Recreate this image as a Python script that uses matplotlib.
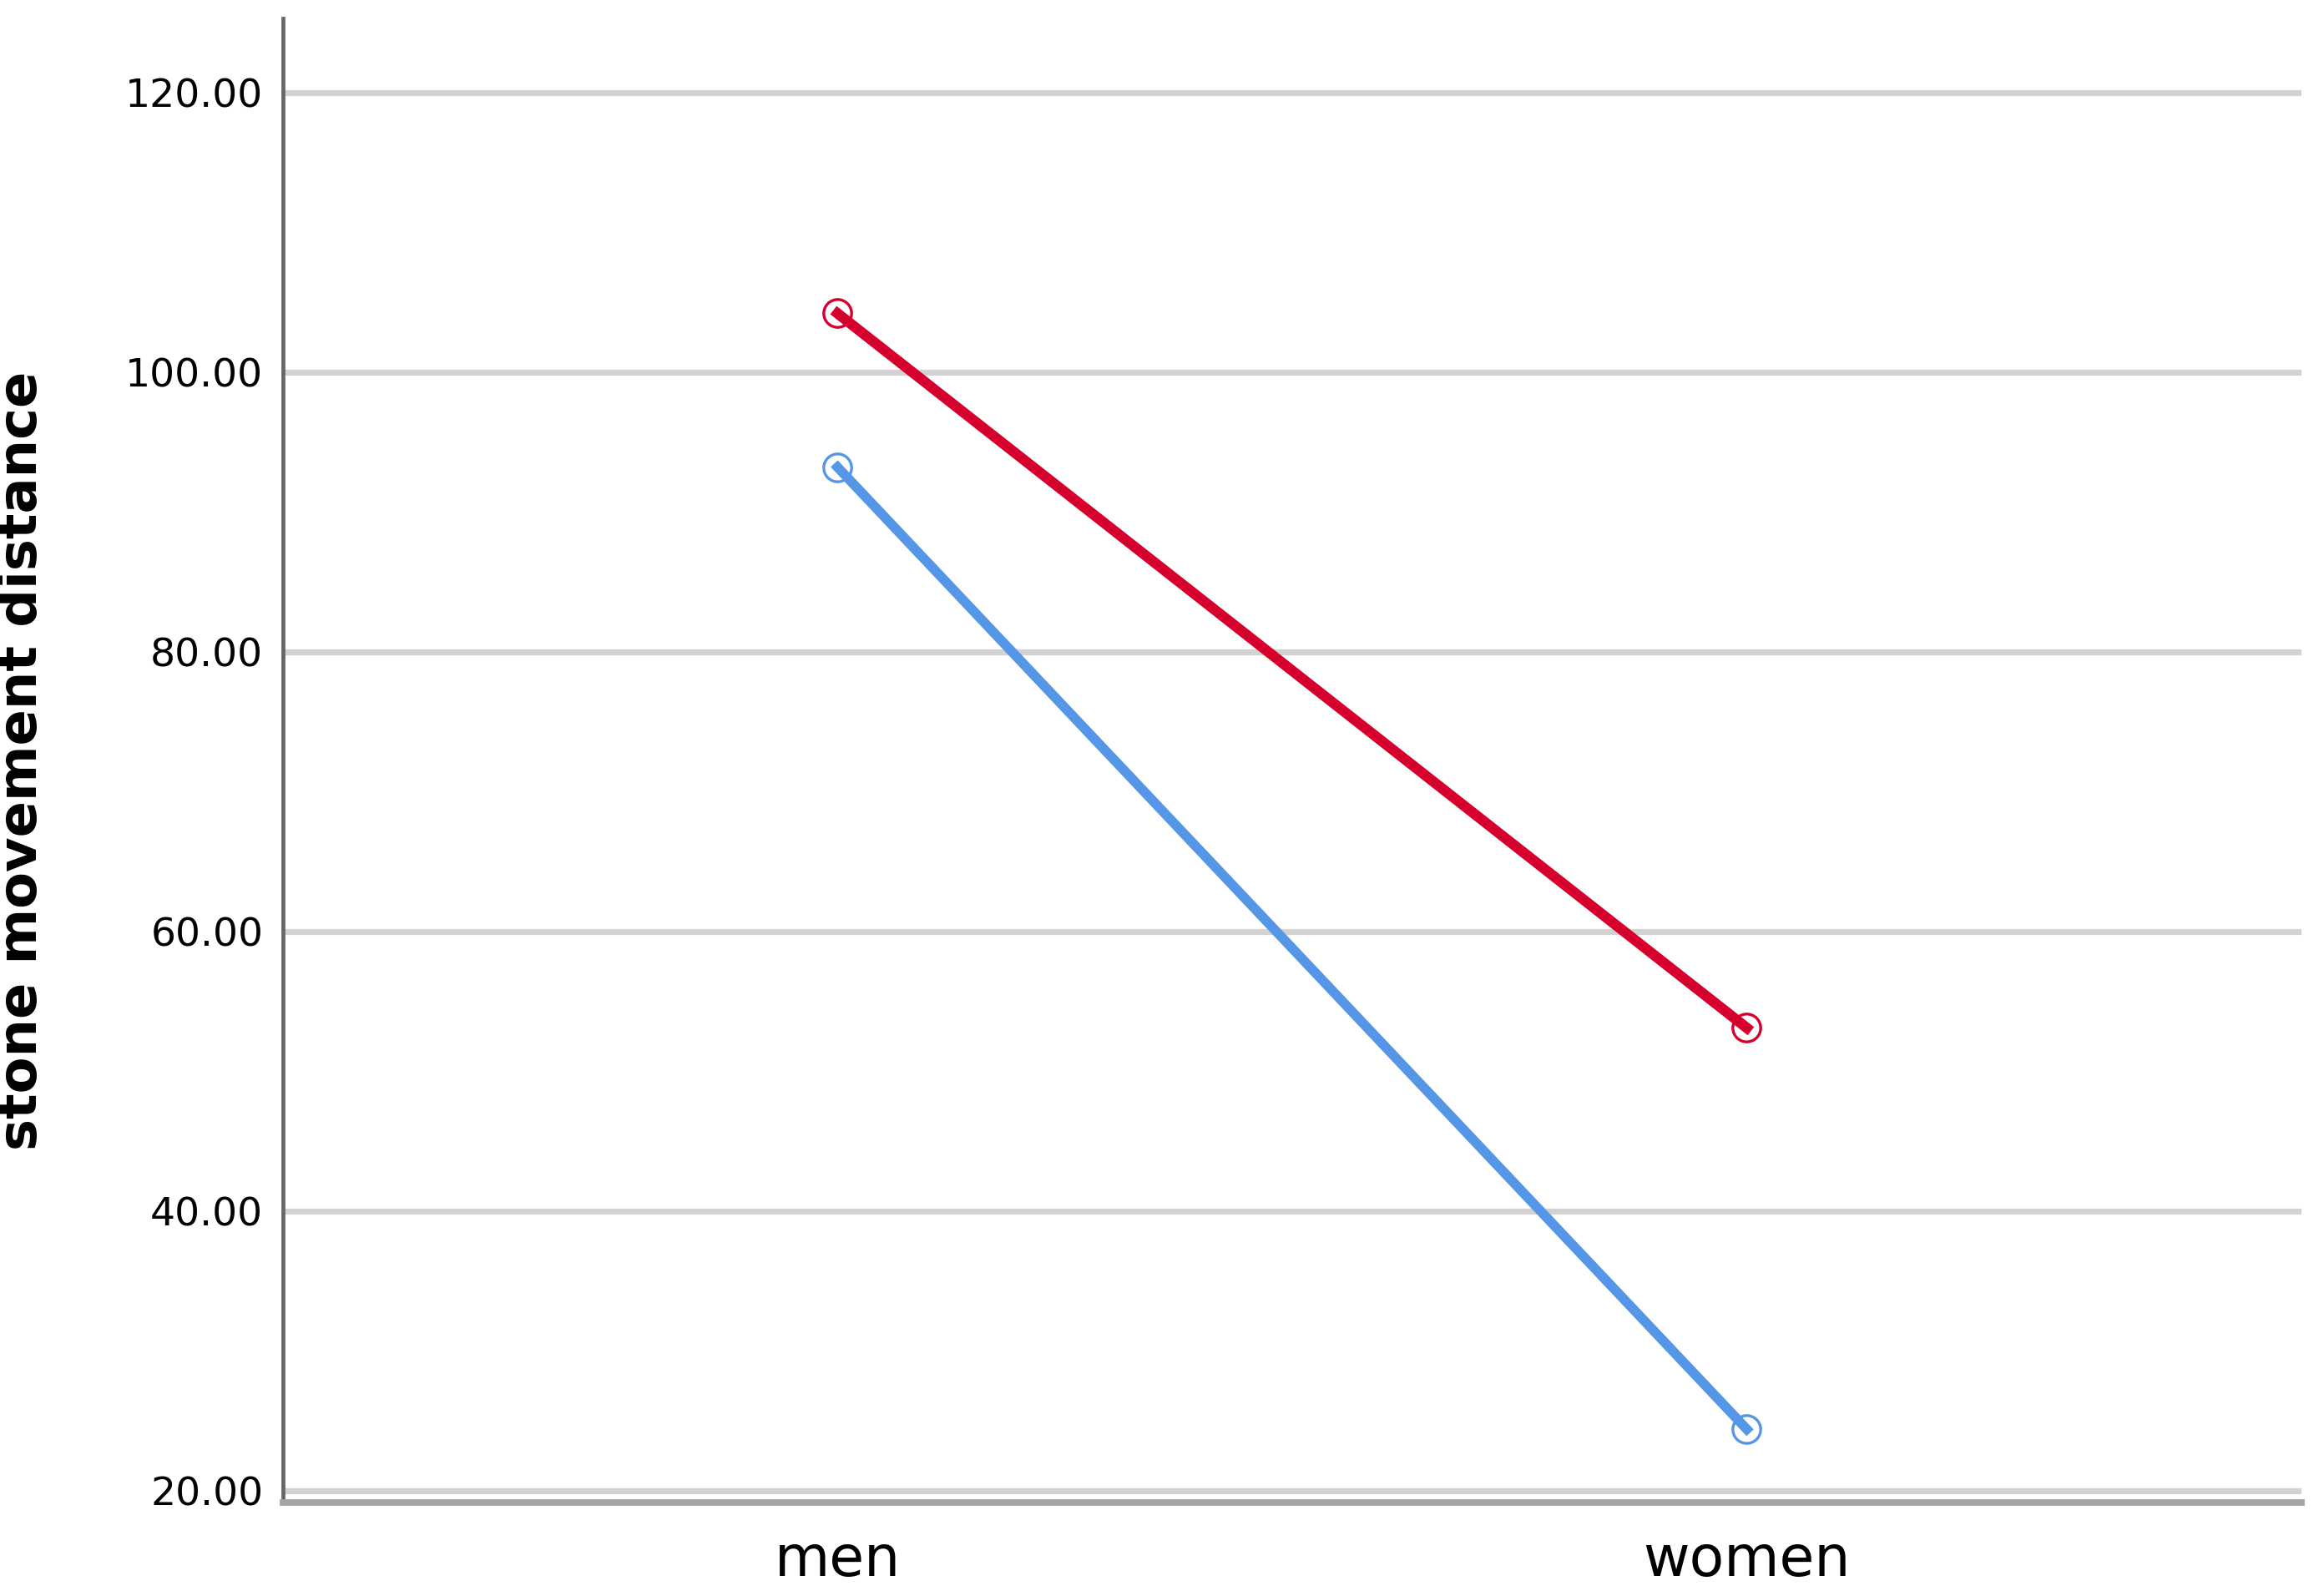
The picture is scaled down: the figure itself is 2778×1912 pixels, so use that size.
import matplotlib
matplotlib.use('Agg')
import matplotlib.pyplot as plt
from matplotlib import rcParams

rcParams['font.family'] = 'DejaVu Sans'

categories = ['men', 'women']
series_red = [104.2, 53.1]
series_blue = [93.2, 24.4]
y_ticks = [20, 40, 60, 80, 100, 120]

RED = '#d6002d'
BLUE = '#5597e6'

fig = plt.figure(figsize=(13.89, 9.56), dpi=200)
ax = fig.add_axes([0.122, 0.0586, 0.8704, 0.9299])

x = list(range(len(categories)))

# gridlines behind the lines
for t in y_ticks:
    ax.axhline(t, color='#d2d2d2', lw=2.6, zorder=1)

ax.plot(x, series_red, color=RED, lw=4.5, zorder=3,
        marker='o', ms=12, mfc='none', mec=RED, mew=1.2)
ax.plot(x, series_blue, color=BLUE, lw=4.2, zorder=3,
        marker='o', ms=12, mfc='none', mec=BLUE, mew=1.2)

ax.set_xlim(-0.61, 1.61)
ax.set_ylim(19.16, 125.3)

ax.set_xticks(x)
ax.set_xticklabels(categories, fontsize=24.5)
ax.set_yticks(y_ticks)
ax.set_yticklabels([f'{t:.2f}' for t in y_ticks], fontsize=17)
ax.tick_params(axis='both', length=0)
ax.tick_params(axis='y', pad=8.5)
ax.tick_params(axis='x', pad=13)

ax.set_ylabel('stone movement distance', fontsize=23, fontweight='bold')
ax.yaxis.set_label_coords(-0.1166, 0.5)

for side in ['top', 'right']:
    ax.spines[side].set_visible(False)
ax.spines['left'].set_color('#666666')
ax.spines['left'].set_linewidth(1.7)
ax.spines['bottom'].set_color('#a4a4a4')
ax.spines['bottom'].set_linewidth(2.8)

plt.savefig('out.png', dpi=200)
plt.close()
